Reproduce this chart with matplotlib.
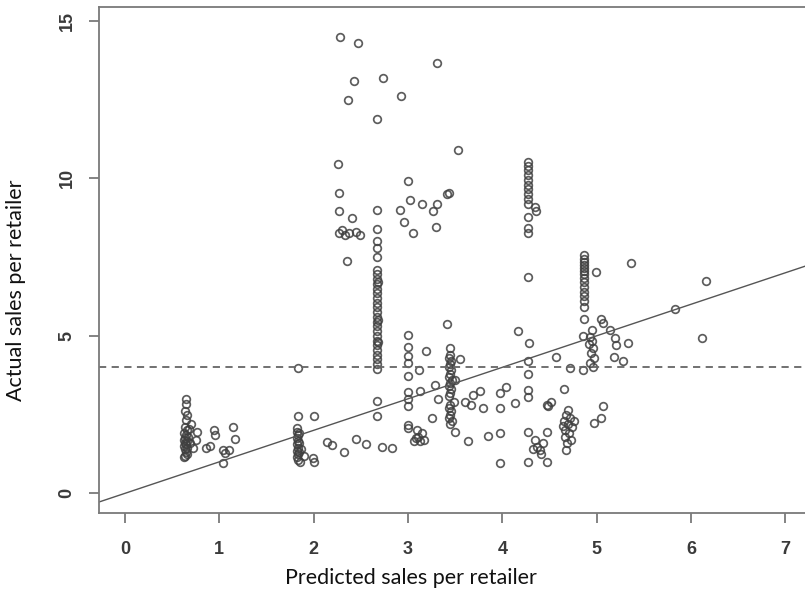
import matplotlib.pyplot as plt
import numpy as np

# (predicted, actual) sales per retailer, grouped by region of the plot
grp_low = [
    (0.65, 3.00), (0.65, 2.82), (0.64, 2.62), (0.66, 2.50), (0.65, 2.33),
    (0.64, 2.10), (0.66, 2.00), (0.63, 1.92), (0.65, 1.85), (0.67, 1.80),
    (0.64, 1.75), (0.62, 1.70), (0.66, 1.65), (0.64, 1.60), (0.65, 1.55),
    (0.63, 1.50), (0.66, 1.45), (0.64, 1.40), (0.65, 1.30), (0.64, 1.20),
    (0.63, 1.15), (0.66, 1.25), (0.76, 1.96), (0.75, 1.70), (0.72, 1.43),
    (0.70, 2.20), (0.68, 2.05), (0.69, 1.60),
    (0.94, 2.01), (0.95, 1.85), (1.14, 2.09), (1.17, 1.72), (0.86, 1.43),
    (0.90, 1.50), (1.04, 1.37), (1.06, 1.27), (1.10, 1.37), (1.04, 0.95),
]
grp_two = [
    (1.83, 3.98), (1.83, 2.45), (2.00, 2.45),
    (1.82, 2.07), (1.82, 1.95), (1.83, 1.85), (1.82, 1.75), (1.83, 1.65),
    (1.82, 1.55), (1.83, 1.45), (1.82, 1.35), (1.83, 1.25), (1.82, 1.15),
    (1.83, 1.05), (1.84, 1.90), (1.84, 1.60), (1.84, 1.30),
    (1.99, 1.11), (2.00, 1.00), (1.87, 1.40), (1.90, 1.20), (1.86, 1.00),
    (2.14, 1.62), (2.19, 1.54),
]
grp_high = [
    (2.28, 14.50), (2.47, 14.30), (3.31, 13.67), (2.43, 13.09), (2.74, 13.20),
    (2.36, 12.50), (2.93, 12.60), (2.67, 11.87), (3.53, 10.90), (2.26, 10.44),
    (3.00, 9.91), (2.27, 9.54), (3.41, 9.49), (3.43, 9.52), (3.02, 9.31),
    (3.15, 9.20), (3.31, 9.20), (3.27, 8.97), (2.27, 8.96), (2.41, 8.75),
    (2.67, 8.99), (2.92, 8.99), (2.96, 8.60), (3.05, 8.28), (3.30, 8.46),
    (2.67, 8.40), (2.27, 8.25), (2.30, 8.35), (2.33, 8.20), (2.38, 8.25),
    (2.45, 8.30), (2.49, 8.20), (2.67, 8.00), (2.35, 7.38),
]
grp_mid = [
    (2.67, 7.80), (2.67, 7.51), (2.67, 7.09), (2.67, 6.95), (2.67, 6.80),
    (2.67, 6.65), (2.67, 6.50), (2.67, 6.35), (2.67, 6.20), (2.67, 6.05),
    (2.67, 5.90), (2.67, 5.75), (2.67, 5.60), (2.67, 5.45), (2.67, 5.30),
    (2.67, 5.15), (2.67, 5.00), (2.67, 4.85), (2.67, 4.70), (2.67, 4.55),
    (2.67, 4.40), (2.67, 4.25), (2.67, 4.10), (2.67, 3.95), (2.68, 6.70),
    (2.68, 5.50), (2.68, 4.80), (2.67, 2.94), (2.67, 2.45),
    (2.32, 1.32), (2.45, 1.71), (2.56, 1.56), (2.73, 1.46), (2.83, 1.43),
    (3.00, 5.03), (3.00, 4.66), (3.00, 4.36), (3.00, 4.15), (3.00, 3.73),
    (3.00, 3.23), (3.00, 3.00), (3.00, 2.78), (3.00, 2.17), (3.00, 2.07),
    (3.19, 4.53), (3.12, 3.91), (3.13, 3.25), (3.29, 3.44), (3.32, 3.00),
    (3.26, 2.40), (3.06, 1.67), (3.08, 1.75), (3.11, 1.80), (3.13, 1.65),
    (3.15, 1.90), (3.17, 1.70), (3.10, 2.00),
    (3.41, 5.37), (3.45, 4.60), (3.45, 4.40), (3.44, 4.30), (3.46, 4.20),
    (3.45, 4.10), (3.44, 4.00), (3.46, 3.90), (3.45, 3.80), (3.43, 3.70),
    (3.47, 3.60), (3.45, 3.50), (3.44, 3.40), (3.46, 3.30), (3.45, 3.20),
    (3.44, 3.10), (3.45, 2.80), (3.44, 2.70), (3.46, 2.60), (3.45, 2.50),
    (3.44, 2.40), (3.47, 2.30), (3.45, 2.20), (3.50, 1.96), (3.55, 4.25),
    (3.50, 3.60), (3.49, 2.90),
    (3.61, 2.91), (3.67, 2.80), (3.69, 3.12), (3.76, 3.26), (3.80, 2.70),
    (3.98, 3.19), (4.04, 3.37), (3.98, 2.70), (4.14, 2.88), (3.64, 1.67),
    (3.85, 1.82), (3.98, 1.92), (3.98, 0.97),
]
grp_four = [
    (4.27, 10.53), (4.27, 10.40), (4.27, 10.25), (4.27, 10.10), (4.27, 9.95),
    (4.27, 9.80), (4.27, 9.65), (4.27, 9.50), (4.27, 9.35), (4.27, 9.20),
    (4.35, 9.10), (4.36, 8.95), (4.27, 8.78), (4.27, 8.41), (4.27, 8.25),
    (4.27, 6.88), (4.17, 5.16), (4.28, 4.78), (4.27, 4.21), (4.27, 3.79),
    (4.27, 3.28), (4.27, 3.07), (4.47, 2.80),
    (4.27, 1.94), (4.47, 1.94), (4.37, 1.48), (4.33, 1.40), (4.40, 1.38),
    (4.27, 1.00), (4.47, 1.00), (4.35, 1.70), (4.43, 1.59), (4.41, 1.25),
]
grp_five = [
    (4.87, 7.57), (4.87, 7.45), (4.87, 7.35), (4.87, 7.25), (4.87, 7.15),
    (4.87, 7.05), (4.87, 6.95), (4.87, 6.85), (4.87, 6.70), (4.87, 6.55),
    (4.87, 6.40), (4.87, 6.25), (4.87, 6.10), (4.87, 5.92), (4.99, 7.04),
    (5.37, 7.30), (5.83, 5.84), (4.87, 5.52), (5.05, 5.55), (5.07, 5.40),
    (4.95, 5.18), (4.86, 4.99), (4.93, 4.96), (4.95, 4.85), (4.92, 4.75),
    (4.96, 4.60), (4.94, 4.45), (4.97, 4.30), (4.93, 4.15), (4.96, 4.00),
    (5.14, 5.18), (5.20, 4.92), (5.21, 4.71), (5.33, 4.78), (5.19, 4.32),
    (5.28, 4.21), (4.57, 4.32), (4.72, 3.99), (4.86, 3.91), (4.65, 3.30),
    (4.49, 2.78), (4.52, 2.91),
    (4.70, 2.64), (4.68, 2.50), (4.72, 2.40), (4.65, 2.30), (4.70, 2.20),
    (4.74, 2.10), (4.67, 2.00), (4.71, 1.90), (4.66, 1.80), (4.73, 1.70),
    (4.69, 1.60), (4.76, 2.30), (4.64, 2.15), (4.68, 1.37),
    (5.07, 2.77), (5.05, 2.38), (4.97, 2.22),
    (6.16, 6.75), (6.12, 4.94),
]

points = grp_low + grp_two + grp_high + grp_mid + grp_four + grp_five
predicted = np.array([p[0] for p in points])
actual = np.array([p[1] for p in points])

mean_actual = 4.0

fig = plt.figure(figsize=(8.05, 5.92), dpi=100)
ax = fig.add_axes([99 / 805, 79 / 592, 706 / 805, 506 / 592])

ax.plot(predicted, actual, 'o', ms=5.5, mfc='none', mec='#404040', mew=1.25, alpha=0.85)

# y = x reference line and the average of actual sales
xl = np.array([-1, 8])
ax.plot(xl, xl, color='#555555', lw=1.0)
ax.axhline(mean_actual, color='#666666', lw=1.3, ls=(0, (4, 3)))

ax.set_xlim(-0.276, 7.21)
ax.set_ylim(-0.625, 15.44)
ax.set_xticks(range(0, 8))
ax.set_yticks([0, 5, 10, 15])

for s in ['left', 'bottom', 'top']:
    ax.spines[s].set_color('#7a7a7a')
    ax.spines[s].set_linewidth(1.3)
ax.spines['right'].set_visible(False)

ax.tick_params(axis='both', length=7, width=1.3, color='#7a7a7a',
               labelsize=13, labelcolor='#3a3a3a')
ax.tick_params(axis='x', pad=13)
ax.tick_params(axis='y', pad=10)
for t in ax.get_yticklabels():
    t.set_rotation(90)
    t.set_va('center')
for t in ax.get_xticklabels() + ax.get_yticklabels():
    t.set_family('Liberation Sans')
    t.set_weight('bold')

fig.text(411 / 805, 1 - 578 / 592, 'Predicted sales per retailer', family='Lato',
         fontsize=15.5, color='#111111', ha='center', va='center')
fig.text(16 / 805, 1 - 290 / 592, 'Actual sales per retailer', family='Lato',
         fontsize=15.5, color='#111111', ha='center', va='center', rotation=90)

plt.savefig('out.png', dpi=100)
